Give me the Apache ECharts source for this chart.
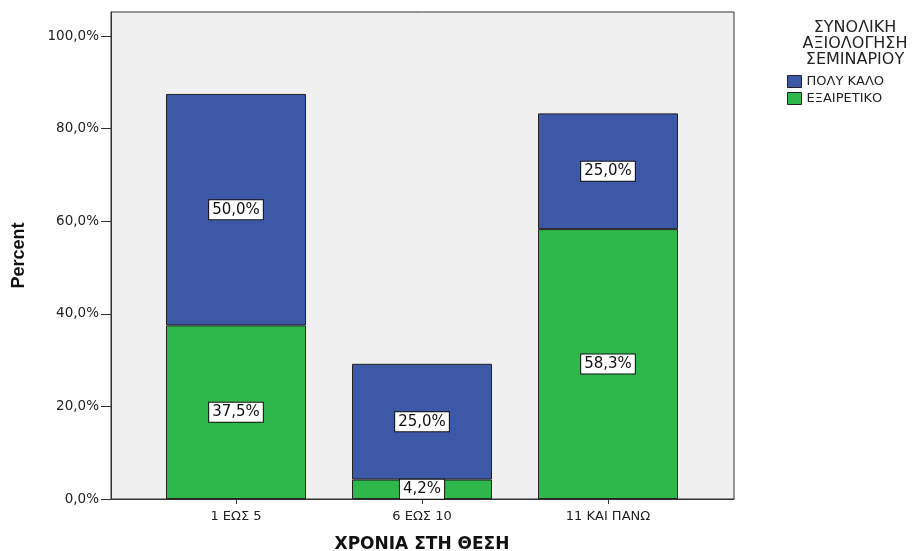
<!DOCTYPE html>
<html><head><meta charset="utf-8">
<script src="https://cdn.jsdelivr.net/npm/echarts@6/dist/echarts.min.js"></script>
<style>html,body{margin:0;padding:0;background:#fff}#c{width:916px;height:551px}</style>
</head><body><div id="c"></div>
<script>
var categories = ['1 ΕΩΣ 5', '6 ΕΩΣ 10', '11 ΚΑΙ ΠΑΝΩ'];
var excellent = [37.5, 4.2, 58.3];   // ΕΞΑΙΡΕΤΙΚΟ
var veryGood = [50.0, 25.0, 25.0];   // ΠΟΛΥ ΚΑΛΟ
var yTicks = [0, 20, 40, 60, 80, 100];
var seriesNames = ['ΠΟΛΥ ΚΑΛΟ', 'ΕΞΑΙΡΕΤΙΚΟ'];
var legendTitle = 'ΣΥΝΟΛΙΚΗ\nΑΞΙΟΛΟΓΗΣΗ\nΣΕΜΙΝΑΡΙΟΥ';

var FONT = 'DejaVu Sans, Verdana, sans-serif';
var Y_MAX = 105.2;
function fmt(v){ return v.toFixed(1).replace('.', ',') + '%'; }

var labelStyle = {
  show: true, position: 'inside', color: '#111', fontFamily: FONT, fontSize: 15,
  backgroundColor: '#fff', borderColor: '#111', borderWidth: 1, padding: [3, 3, 1, 3],
  formatter: function(p){ return fmt(p.value); }
};

var chart = echarts.init(document.getElementById('c'), null, {renderer: 'canvas'});
chart.setOption({
  animation: false,
  title: {
    text: legendTitle, left: 850, top: 15, textAlign: 'center',
    textStyle: {fontFamily: FONT, fontWeight: 'normal', fontSize: 16, color: '#222', lineHeight: 16}
  },
  legend: {
    data: seriesNames, orient: 'vertical', left: 787, top: 75,
    itemWidth: 14, itemHeight: 12, itemGap: 4, icon: 'rect', padding: 0,
    textStyle: {fontFamily: FONT, fontSize: 13, color: '#222'},
    itemStyle: {borderColor: '#222', borderWidth: 1}
  },
  grid: [
    // bars grid (category spacing)
    {left: 143, right: 916 - 701, top: 12, bottom: 551 - 499, containLabel: false, outerBoundsMode: 'none'},
    // frame grid (plot box + value axis)
    {left: 111, right: 916 - 734, top: 12, bottom: 551 - 499, containLabel: false, outerBoundsMode: 'none',
     show: true, backgroundColor: '#f0f0f0', borderColor: '#333', borderWidth: 1, z: -1}
  ],
  xAxis: [
    {
      gridIndex: 0, type: 'category', data: categories,
      name: 'ΧΡΟΝΙΑ ΣΤΗ ΘΕΣΗ', nameLocation: 'middle', nameGap: 37,
      nameTextStyle: {fontFamily: FONT, fontWeight: 'bold', fontSize: 17, color: '#111'},
      axisLine: {show: false},
      axisTick: {show: true, alignWithLabel: true, length: 5, lineStyle: {color: '#333'}},
      axisLabel: {fontFamily: FONT, fontSize: 13, color: '#222', margin: 11}
    },
    {
      gridIndex: 1, type: 'value', min: 0, max: 1, show: true,
      axisLine: {show: true, lineStyle: {color: '#333'}},
      axisTick: {show: false}, axisLabel: {show: false}, splitLine: {show: false}
    }
  ],
  yAxis: [
    {gridIndex: 0, type: 'value', min: 0, max: Y_MAX, show: false},
    {
      gridIndex: 1, type: 'value', min: 0, max: Y_MAX,
      name: 'Percent', nameLocation: 'middle', nameGap: 83, nameRotate: 90,
      nameTextStyle: {fontFamily: 'Liberation Sans Narrow, Liberation Sans, sans-serif', fontWeight: 'bold', fontSize: 18, color: '#111'},
      splitLine: {show: false},
      axisLine: {show: true, lineStyle: {color: '#333', width: 1}},
      axisTick: {show: true, length: 10, customValues: yTicks, lineStyle: {color: '#333'}},
      axisLabel: {
        customValues: yTicks, fontFamily: FONT, fontSize: 13.5, color: '#222', margin: 12,
        formatter: function(v){ return fmt(v); }
      }
    }
  ],
  series: [
    {
      name: 'ΕΞΑΙΡΕΤΙΚΟ', type: 'bar', stack: 'a', barWidth: 140,
      xAxisIndex: 0, yAxisIndex: 0, data: excellent,
      itemStyle: {color: '#2eb84b', borderColor: '#222', borderWidth: 1},
      label: labelStyle
    },
    {
      name: 'ΠΟΛΥ ΚΑΛΟ', type: 'bar', stack: 'a', barWidth: 140,
      xAxisIndex: 0, yAxisIndex: 0, data: veryGood,
      itemStyle: {color: '#3e58a8', borderColor: '#222', borderWidth: 1},
      label: labelStyle
    }
  ]
});
</script></body></html>
